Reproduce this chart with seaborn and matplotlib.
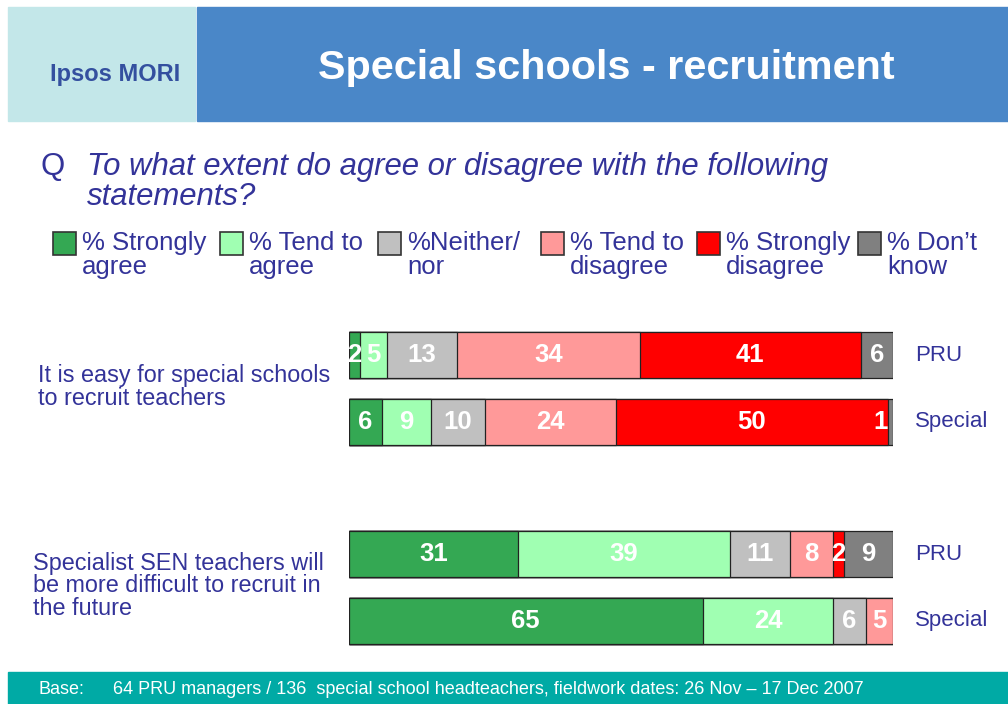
import matplotlib
matplotlib.use("Agg")
import matplotlib.pyplot as plt
from matplotlib.patches import Rectangle
import numpy as np
import pandas as pd
import seaborn as sns

# ---- data ----
rows = ["A_PRU", "A_Special", "gap", "B_PRU", "B_Special"]
row_labels = ["PRU", "Special", "", "PRU", "Special"]
statements = ["It is easy for special schools\nto recruit teachers",
              "Specialist SEN teachers will\nbe more difficult to recruit in\nthe future"]
categories = ["% Strongly\nagree", "% Tend to\nagree", "%Neither/\nnor",
              "% Tend to\ndisagree", "% Strongly\ndisagree", "% Don\u2019t\nknow"]
strongly_agree = [2, 6, 31, 65]
tend_agree = [5, 9, 39, 24]
neither = [13, 10, 11, 6]
tend_disagree = [34, 24, 8, 5]
strongly_disagree = [41, 50, 2, 0]
dont_know = [6, 1, 9, 0]

colors = ["#34a853", "#a0ffb2", "#c0c0c0", "#ff9999", "#ff0000", "#808080"]
TXT = "#333399"

series = [strongly_agree, tend_agree, neither, tend_disagree, strongly_disagree, dont_know]
vals = np.array(series, dtype=float)          # shape (6, 4)
totals = vals.sum(axis=0)
shares = vals / totals * 100                  # each bar fills the full width
cum = np.cumsum(shares, axis=0)
bar_rows = [r for r in rows if r != "gap"]

sns.set_theme(style="white")
plt.rcParams["font.family"] = ["Liberation Sans", "DejaVu Sans"]

fig = plt.figure(figsize=(10.08, 7.04), dpi=100)

# header
fig.patches.append(Rectangle((8 / 1008, 1 - 121 / 704), 187 / 1008, 114 / 704,
                             transform=fig.transFigure, color="#c3e7e9", zorder=0))
fig.patches.append(Rectangle((197 / 1008, 1 - 121 / 704), 811 / 1008, 114 / 704,
                             transform=fig.transFigure, color="#4a87c8", zorder=0))
fig.text(115 / 1008, 1 - 75 / 704, "Ipsos MORI", color="#34509f", fontsize=17,
         fontweight="bold", ha="center", va="center")
fig.text(606 / 1008, 1 - 68 / 704, "Special schools - recruitment", color="white",
         fontsize=29.8, fontweight="bold", ha="center", va="center")

# question
fig.text(40 / 1008, 1 - 167 / 704, "Q", color=TXT, fontsize=22.4, ha="left", va="center")
fig.text(87 / 1008, 1 - 167 / 704, "To what extent do agree or disagree with the following",
         color=TXT, fontsize=22.4, style="italic", ha="left", va="center")
fig.text(87 / 1008, 1 - 197 / 704, "statements?", color=TXT, fontsize=22.4,
         style="italic", ha="left", va="center")

# legend
sq_x = [53, 220, 378, 541, 697, 858]
for x, lab, c in zip(sq_x, categories, colors):
    fig.patches.append(Rectangle((x / 1008, 1 - 255 / 704), 23 / 1008, 23 / 704,
                                 transform=fig.transFigure, facecolor=c,
                                 edgecolor="#333333", linewidth=1.2))
    fig.text((x + 29) / 1008, 1 - 231 / 704, lab, color=TXT, fontsize=18.5,
             ha="left", va="top", linespacing=1.0)

# statements
fig.text(38 / 1008, 1 - 387 / 704, statements[0], color=TXT, fontsize=16.8,
         ha="left", va="center", linespacing=0.95)
fig.text(33 / 1008, 1 - 586 / 704, statements[1], color=TXT, fontsize=16.8,
         ha="left", va="center", linespacing=0.95)

# footer
fig.patches.append(Rectangle((8 / 1008, 0), 1000 / 1008, 32 / 704,
                             transform=fig.transFigure, color="#00aaa5", zorder=0))
fig.text(38 / 1008, 15 / 704, "Base:", color="white", fontsize=13, ha="left", va="center")
fig.text(113 / 1008, 15 / 704,
         "64 PRU managers / 136  special school headteachers, fieldwork dates: 26 Nov \u2013 17 Dec 2007",
         color="white", fontsize=13, ha="left", va="center")

# bars
ax = fig.add_axes([349 / 1008, 1 - 654 / 704, 544 / 1008, 332 / 704])
for i in range(len(series) - 1, -1, -1):
    df = pd.DataFrame({"row": bar_rows, "value": cum[i]})
    sns.barplot(data=df, x="value", y="row", order=rows, color=colors[i],
                width=0.69, edgecolor="#222222", linewidth=0.9,
                saturation=1, ax=ax)

for j, r in enumerate(bar_rows):
    ypos = rows.index(r)
    for i in range(len(series)):
        if vals[i, j] <= 0:
            continue
        left = cum[i, j] - shares[i, j]
        xc = left + shares[i, j] / 2
        if i == 5 and shares[i, j] < 2:
            xc = left - 1.2
        ax.text(xc, ypos, f"{int(vals[i, j])}", color="white", fontsize=18.5,
                fontweight="bold", ha="center", va="center")

ax.set_xlim(0, 100)
ax.set_ylim(4.5, -0.5)
ax.set_xlabel("")
ax.set_ylabel("")
ax.set_xticks([])
ax.set_yticks([])
sns.despine(ax=ax, left=True, bottom=True)
for ypos, lab in enumerate(row_labels):
    if lab:
        ax.text(104, ypos, lab, color=TXT, fontsize=16, ha="left", va="center",
                clip_on=False)

fig.savefig("out.png", dpi=100)
